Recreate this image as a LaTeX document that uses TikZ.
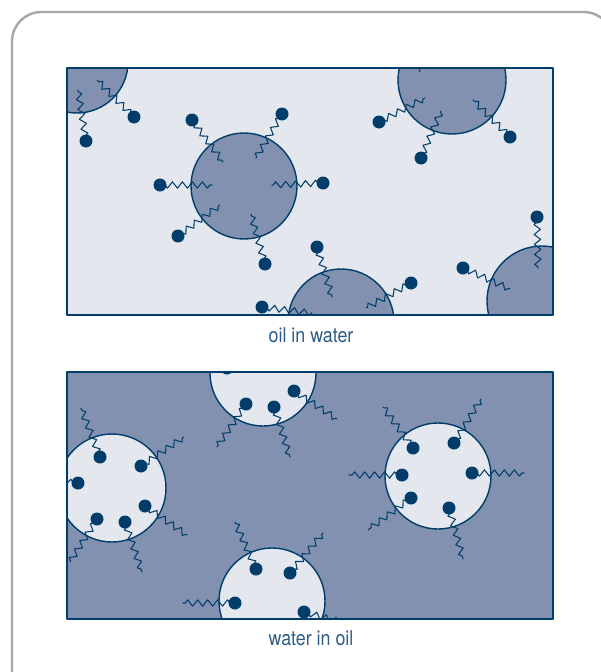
\documentclass[tikz,border=0pt]{standalone}
\usepackage{fontspec}
\setmainfont[FakeStretch=0.87]{TeX Gyre Heros}
\usetikzlibrary{decorations.pathmorphing}
\definecolor{qqwwtt}{rgb}{0,0.24,0.42}
\definecolor{ttzzcc}{rgb}{0.51,0.57,0.69}
\definecolor{zzzzff}{rgb}{0.9,0.906,0.933}
\definecolor{ttuuzz}{rgb}{0.18,0.36,0.53}
\definecolor{cccccc}{rgb}{0.66,0.66,0.66}

\begin{document}
\begin{tikzpicture}[line cap=round,line join=round,x=0.03cm,y=-0.03cm,
	tail/.style={line width=0.9pt,color=qqwwtt,decorate,
		decoration={zigzag,segment length=8.5pt,amplitude=2.7pt}},
	head/.style={fill=qqwwtt},
	drop/.style={line width=1.2pt,draw=qqwwtt}]
\useasboundingbox (0,0) rectangle (601,672);
\draw [line width=2.1pt,color=cccccc,rounded corners=25pt] (12,675) -- (12,12) -- (613,12) -- (613,675);
% oil in water
\fill[color=zzzzff] (67,68) rectangle (553,315);
\begin{scope}
\clip (67,68) rectangle (553,315);
\draw[drop,fill=ttzzcc] (77,62) circle (51);
\draw[drop,fill=ttzzcc] (244,186) circle (53);
\draw[drop,fill=ttzzcc] (452,80) circle (54);
\draw[drop,fill=ttzzcc] (341,322) circle (53);
\draw[drop,fill=ttzzcc] (542,301) circle (55);
\foreach \hx/\hy/\ex/\ey in {86/141/78/90, 134/117/97/80,
		192/120/223/162, 282/114/256/158, 160/185/212/185, 323/183/272/185, 178/236/220/205, 265/264/251/214,
		379/122/425/98, 421/158/441/111, 510/137/473/100, 412/20/420/72,
		317/247/332/297, 411/283/366/308, 262/307/312/313,
		537/217/538/268, 463/268/510/289}
	{\draw[tail] (\hx,\hy) -- (\ex,\ey);
	\fill[head] (\hx,\hy) circle (6.5);}
\end{scope}
\draw [line width=1.6pt,color=qqwwtt] (67,68) rectangle (553,315);
\draw (311,342) node[anchor=base,color=ttuuzz,font=\fontsize{17.5}{20}\selectfont] {oil in water};
% water in oil
\fill[color=ttzzcc] (67,372) rectangle (553,619);
\begin{scope}
\clip (67,372) rectangle (553,619);
\draw[drop,fill=zzzzff] (263,373) circle (53);
\draw[drop,fill=zzzzff] (112,488) circle (54);
\draw[drop,fill=zzzzff] (438,476) circle (53);
\draw[drop,fill=zzzzff] (272,601) circle (53);
\foreach \hx/\hy/\ex/\ey in {246/404/217/447, 274/407/290/457, 294/391/337/419, 227/368/215/318,
		100/457/81/408, 141/466/184/437, 78/483/26/478, 145/506/187/535, 97/519/70/562, 125/522/142/572,
		413/448/383/407, 454/443/481/399, 402/475/349/475, 472/473/524/473, 411/498/368/530, 449/508/463/559,
		256/569/235/522, 290/573/323/533, 235/603/183/603, 304/612/352/625}
	{\draw[tail] (\hx,\hy) -- (\ex,\ey);
	\fill[head] (\hx,\hy) circle (6.5);}
\end{scope}
\draw [line width=1.6pt,color=qqwwtt] (67,372) rectangle (553,619);
\draw (311,645) node[anchor=base,color=ttuuzz,font=\fontsize{17.5}{20}\selectfont] {water in oil};
\end{tikzpicture}
\end{document}
